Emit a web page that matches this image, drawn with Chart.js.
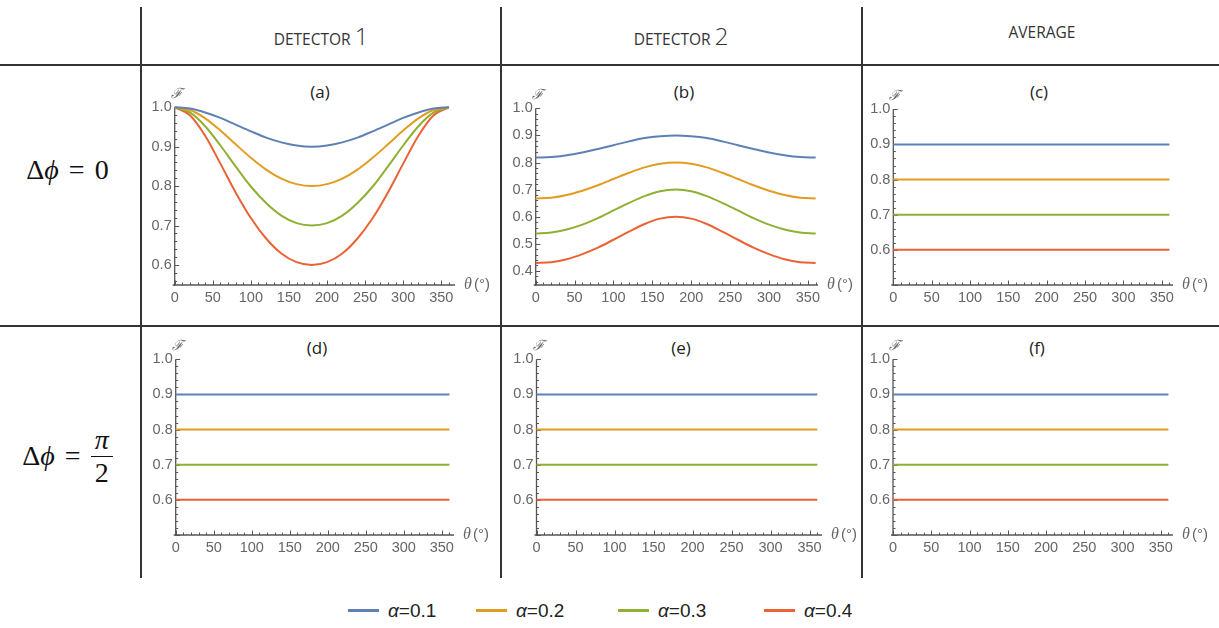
<!DOCTYPE html>
<html>
<head>
<meta charset="utf-8">
<script src="https://cdn.jsdelivr.net/npm/chart.js@4"></script>
<style>
  body { margin: 0; background: #fff; }
  #page { position: relative; width: 1219px; height: 628px; overflow: hidden; font-family: "Liberation Sans", Arial, sans-serif; }
  .hl, .vl { position: absolute; background: #333; }
  .hl { height: 1.5px; }
  .vl { width: 1.5px; }
  .head { position: absolute; top: 19px; width: 360px; text-align: center; font-family: "Open Sans", sans-serif; color: #333; font-size: 15.5px; }
  .head .big { font-size: 24px; font-weight: 300; }
  .plabel { position: absolute; width: 60px; margin-left: -30px; text-align: center; font-family: "Open Sans", sans-serif; font-size: 17px; color: #222; }
  .row { position: absolute; left: 0; width: 135px; text-align: center; font-family: "Liberation Serif", serif; font-size: 28px; color: #111; word-spacing: 3px; }
  .frac { display: inline-block; vertical-align: middle; text-align: center; line-height: 1; margin-top: -4px; }
  .frac span { display: block; padding: 2px 4px; }
  .frac .num { border-bottom: 1.5px solid #111; }
  canvas { position: absolute; }
  .leg { position: absolute; top: 600px; font-size: 19px; color: #222; white-space: nowrap; }
  .leg i { display: inline-block; width: 31px; height: 3px; vertical-align: middle; margin-right: 9px; margin-top: -2px; }
</style>
</head>
<body>
<div id="page">
  <div class="vl" style="left:140px;top:7px;height:571px"></div>
  <div class="vl" style="left:500px;top:7px;height:571px"></div>
  <div class="vl" style="left:861px;top:7px;height:571px"></div>
  <div class="hl" style="left:0;top:64px;width:1219px"></div>
  <div class="hl" style="left:0;top:325px;width:1219px"></div>

  <div class="head" style="left:141px">DETECTOR <span class="big">1</span></div>
  <div class="head" style="left:501px">DETECTOR <span class="big">2</span></div>
  <div class="head" style="left:862px;top:21px">AVERAGE</div>

  <div class="row" style="top:154px">&Delta;<i>&#981;</i> = 0</div>
  <div class="row" style="top:428px">&Delta;<i>&#981;</i> = <span class="frac"><span class="num"><i>&pi;</i></span><span>2</span></span></div>

  <div class="plabel" style="left:320px;top:80px">(a)</div>
  <div class="plabel" style="left:684px;top:80px">(b)</div>
  <div class="plabel" style="left:1039px;top:80px">(c)</div>
  <div class="plabel" style="left:317px;top:336px">(d)</div>
  <div class="plabel" style="left:681px;top:336px">(e)</div>
  <div class="plabel" style="left:1037px;top:336px">(f)</div>

  <canvas id="ca" width="359" height="250" style="left:142px;top:66px"></canvas>
  <canvas id="cb" width="359" height="250" style="left:502px;top:66px"></canvas>
  <canvas id="cc" width="357" height="250" style="left:863px;top:66px"></canvas>
  <canvas id="cd" width="359" height="250" style="left:142px;top:327px"></canvas>
  <canvas id="ce" width="359" height="250" style="left:502px;top:327px"></canvas>
  <canvas id="cf" width="357" height="250" style="left:863px;top:327px"></canvas>

  <div id="legend"></div>
</div>
<script>
// data
const alphaLabels = ['α=0.1', 'α=0.2', 'α=0.3', 'α=0.4'];
const thetaDeg = [0, 20, 40, 60, 80, 100, 120, 140, 160, 180, 200, 220, 240, 260, 280, 300, 320, 340, 360];

// (a) detector 1, dphi = 0
const det1A1 = [1.000, 0.997, 0.987, 0.973, 0.956, 0.939, 0.923, 0.911, 0.903, 0.900, 0.903, 0.911, 0.923, 0.939, 0.956, 0.973, 0.987, 0.997, 1.000];
const det1A2 = [1.000, 0.993, 0.972, 0.941, 0.906, 0.872, 0.842, 0.819, 0.805, 0.800, 0.805, 0.819, 0.842, 0.872, 0.906, 0.941, 0.972, 0.993, 1.000];
const det1A3 = [1.000, 0.987, 0.952, 0.903, 0.850, 0.799, 0.757, 0.725, 0.706, 0.700, 0.706, 0.725, 0.757, 0.799, 0.850, 0.903, 0.952, 0.987, 1.000];
const det1A4 = [1.000, 0.980, 0.928, 0.857, 0.784, 0.719, 0.667, 0.629, 0.607, 0.600, 0.607, 0.629, 0.667, 0.719, 0.784, 0.857, 0.928, 0.980, 1.000];

// (b) detector 2, dphi = 0
const det2A1 = [0.818, 0.820, 0.827, 0.837, 0.850, 0.864, 0.878, 0.890, 0.897, 0.900, 0.897, 0.890, 0.878, 0.864, 0.850, 0.837, 0.827, 0.820, 0.818];
const det2A2 = [0.667, 0.670, 0.680, 0.696, 0.716, 0.739, 0.762, 0.782, 0.795, 0.800, 0.795, 0.782, 0.762, 0.739, 0.716, 0.696, 0.680, 0.670, 0.667];
const det2A3 = [0.538, 0.542, 0.553, 0.571, 0.595, 0.623, 0.651, 0.676, 0.694, 0.700, 0.694, 0.676, 0.651, 0.623, 0.595, 0.571, 0.553, 0.542, 0.538];
const det2A4 = [0.429, 0.432, 0.443, 0.462, 0.486, 0.515, 0.545, 0.573, 0.593, 0.600, 0.593, 0.573, 0.545, 0.515, 0.486, 0.462, 0.443, 0.432, 0.429];

// (c)-(f) constant lines
const flatTheta = [0, 360];
const flatA1 = [0.9, 0.9];
const flatA2 = [0.8, 0.8];
const flatA3 = [0.7, 0.7];
const flatA4 = [0.6, 0.6];

const xTicks = [0, 50, 100, 150, 200, 250, 300, 350];
const yTicksA = [0.6, 0.7, 0.8, 0.9, 1.0];
const yTicksB = [0.4, 0.5, 0.6, 0.7, 0.8, 0.9, 1.0];

const colors = ['#5E81B5', '#E19C24', '#8FB032', '#EB6235'];

// Mathematica-like axes: inward ticks, minor ticks, axis labels
const mmaAxes = {
    id: 'mmaAxes',
    beforeDatasetsDraw(chart) {
        const x = chart.scales.x, y = chart.scales.y, ctx = chart.ctx;
        const x0 = x.getPixelForValue(0);
        const yb = y.getPixelForValue(y.min);
        const yt = y.getPixelForValue(1.0);
        const xe = x.getPixelForValue(x.max);
        ctx.save();
        ctx.strokeStyle = '#555';
        ctx.lineWidth = 1.3;
        ctx.beginPath();
        ctx.moveTo(x0, yt); ctx.lineTo(x0, yb + 1);
        ctx.moveTo(x0 - 2, yb); ctx.lineTo(xe, yb);
        ctx.stroke();
        ctx.lineWidth = 1;
        ctx.beginPath();
        for (let v = 0; v <= 360; v += 10) {
            const px = Math.round(x.getPixelForValue(v)) + 0.5;
            const len = v % 50 === 0 ? 4.5 : 2.5;
            ctx.moveTo(px, yb); ctx.lineTo(px, yb - len);
        }
        for (let k = Math.ceil(y.min * 50 - 1e-6); k <= 50; k++) {
            const py = Math.round(y.getPixelForValue(k / 50)) + 0.5;
            const len = k % 5 === 0 ? 4.5 : 2.5;
            ctx.moveTo(x0, py); ctx.lineTo(x0 + len, py);
        }
        ctx.stroke();
        ctx.fillStyle = '#666';
        ctx.font = 'italic 14px "DejaVu Serif", serif';
        ctx.textAlign = 'center';
        ctx.textBaseline = 'middle';
        ctx.fillText('ℱ', x0 + 2, yt - 13);
        ctx.textAlign = 'left';
        ctx.font = 'italic 16px "Liberation Serif", serif';
        ctx.fillText('θ', xe + 9, yb);
        ctx.font = '15px "Liberation Sans", sans-serif';
        ctx.fillText('(°)', xe + 19, yb);
        ctx.restore();
    }
};

function makeDatasets(xs, series) {
    return series.map((ys, i) => ({
        label: alphaLabels[i],
        data: xs.map((t, j) => ({ x: t, y: ys[j] })),
        borderColor: colors[i],
        borderWidth: 2,
        pointRadius: 0,
        cubicInterpolationMode: 'monotone',
        clip: false,
        fill: false
    }));
}

function panel(id, canvasLeft, canvasTop, canvasW, x0, xEnd, yTop, yBottom, xMax, yMin, yTicks, xs, series) {
    const yW = 30, xH = 28;
    new Chart(document.getElementById(id).getContext('2d'), {
        type: 'line',
        data: { datasets: makeDatasets(xs, series) },
        options: {
            responsive: false,
            animation: false,
            events: [],
            layout: {
                padding: {
                    left: x0 - canvasLeft - yW,
                    right: canvasLeft + canvasW - xEnd,
                    top: yTop - canvasTop,
                    bottom: canvasTop + 250 - yBottom - xH
                }
            },
            plugins: { legend: { display: false }, tooltip: { enabled: false } },
            scales: {
                x: {
                    type: 'linear', min: 0, max: xMax,
                    grid: { display: false, drawTicks: false }, border: { display: false },
                    afterBuildTicks: s => { s.ticks = xTicks.map(v => ({ value: v })); },
                    afterFit: s => { s.height = xH; },
                    ticks: { color: '#666', padding: 4, maxRotation: 0, autoSkip: false,
                             font: { family: '"Liberation Sans", sans-serif', size: 14.5 } }
                },
                y: {
                    type: 'linear', min: yMin, max: 1.0,
                    grid: { display: false, drawTicks: false }, border: { display: false },
                    afterBuildTicks: s => { s.ticks = yTicks.map(v => ({ value: v })); },
                    afterFit: s => { s.width = yW; },
                    ticks: { color: '#666', padding: 3, autoSkip: false,
                             callback: v => v.toFixed(1),
                             font: { family: '"Liberation Sans", sans-serif', size: 14.5 } }
                }
            }
        },
        plugins: [mmaAxes]
    });
}

const flatSeries = [flatA1, flatA2, flatA3, flatA4];
panel('ca', 142, 66, 359, 174.7, 455, 107.3, 285, 368, 0.549, yTicksA, thetaDeg, [det1A1, det1A2, det1A3, det1A4]);
panel('cb', 502, 66, 359, 535.7, 818, 108.3, 285, 363, 0.348, yTicksB, thetaDeg, [det2A1, det2A2, det2A3, det2A4]);
panel('cc', 863, 66, 357, 893.3, 1173, 109.3, 285, 364.7, 0.5, yTicksA, flatTheta, flatSeries);
panel('cd', 142, 327, 359, 175.7, 454, 359.3, 535, 366, 0.5, yTicksA, flatTheta, flatSeries);
panel('ce', 502, 327, 359, 536.5, 822, 359.3, 535, 366, 0.5, yTicksA, flatTheta, flatSeries);
panel('cf', 863, 327, 357, 893, 1173, 359.3, 535, 366, 0.5, yTicksA, flatTheta, flatSeries);

// legend
const legLeft = [348, 476, 618, 764];
const legend = document.getElementById('legend');
alphaLabels.forEach((lab, i) => {
    const d = document.createElement('div');
    d.className = 'leg';
    d.style.left = legLeft[i] + 'px';
    d.innerHTML = '<i style="background:' + colors[i] + '"></i><span style="font-style:italic">α</span>' + lab.slice(1);
    legend.appendChild(d);
});
</script>
</body>
</html>
